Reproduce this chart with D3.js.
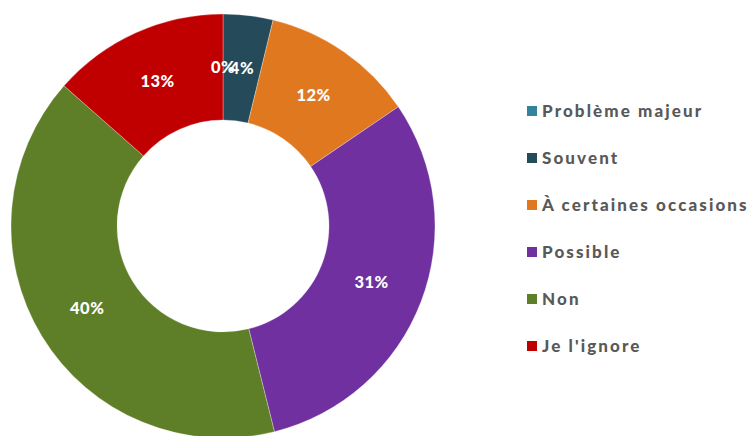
<!DOCTYPE html>
<html><head><meta charset="utf-8">
<script src="https://cdn.jsdelivr.net/npm/d3@7"></script>
<style>body{margin:0;background:#fff}svg{display:block}</style>
</head><body>
<svg id="c" width="755" height="436"></svg>
<script>
const categories = ["Problème majeur","Souvent","À certaines occasions","Possible","Non","Je l'ignore"];
const values = [0, 3.8, 11.7, 30.6, 40.4, 13.5];
const labels = ["0%","4%","12%","31%","40%","13%"];
const colors = ["#31849B","#254B5A","#E07820","#7030A0","#5E7E28","#C00000"];

const svg = d3.select("#c");
const cx = 223, cy = 226, R = 212, r = 106;
const pie = d3.pie().sort(null).value(d => d)(values);
const arc = d3.arc().innerRadius(r).outerRadius(R);
const g = svg.append("g").attr("transform", `translate(${cx},${cy})`);
g.selectAll("path").data(pie).join("path")
  .attr("d", arc).attr("fill", (d,i) => colors[i])
  .attr("stroke", "#fff").attr("stroke-width", 0.3);
g.selectAll("text").data(pie).join("text")
  .attr("transform", d => `translate(${arc.centroid(d)})`)
  .attr("text-anchor", "middle").attr("dy", "0.35em")
  .attr("fill", "#fff").attr("font-family", "Lato, sans-serif")
  .attr("font-weight", 900).attr("font-size", 16.5).attr("letter-spacing", 0.5)
  .text((d,i) => labels[i]);

const leg = svg.append("g");
const ly = d3.scalePoint().domain(categories).range([111, 346]);
const items = leg.selectAll("g").data(categories).join("g")
  .attr("transform", d => `translate(527,${ly(d)})`);
items.append("rect").attr("x", 0).attr("y", -5).attr("width", 10).attr("height", 10)
  .attr("fill", (d,i) => colors[i]);
items.append("text").attr("x", 15).attr("dy", "0.35em")
  .attr("fill", "#595959").attr("font-family", "Lato, sans-serif")
  .attr("font-weight", 900).attr("font-size", 17).attr("letter-spacing", 2.1)
  .text(d => d);
</script>
</body></html>
